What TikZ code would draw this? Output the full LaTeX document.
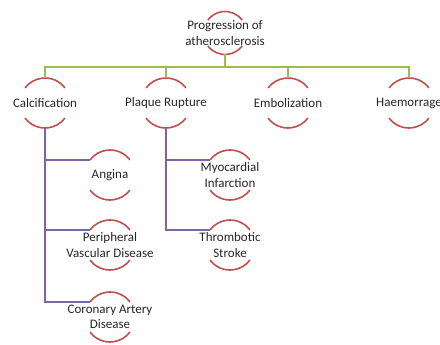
\documentclass[tikz,border=0pt]{standalone}
\usepackage{fontspec}
\setmainfont{Carlito}
\definecolor{arcred}{RGB}{192,80,77}
\definecolor{lgreen}{RGB}{155,187,89}
\definecolor{lpurple}{RGB}{128,100,162}
\begin{document}
\begin{tikzpicture}[x=1pt,y=1pt,
  item/.style={circle, minimum size=50pt, inner sep=0pt, outer sep=0pt},
  smallitem/.style={item, minimum size=43pt},
  itemtext/.style={align=center, font=\fontsize{13}{15.5}\selectfont, text=black!85, inner sep=0pt},
  arcline/.style={draw=arcred, line width=1.6pt},
  gline/.style={draw=lgreen, line width=1.6pt},
  pline/.style={draw=lpurple, line width=1.6pt}]
\useasboundingbox (0,0) rectangle (440,-345);
\clip (0,0) rectangle (440,-345);
% nodes
\node[smallitem, label={[itemtext]center:Progression of\\atherosclerosis}] (top) at (225,-33) {};
\node[item, label={[itemtext]center:Calcification}] (calc) at (45,-103) {};
\node[item, label={[itemtext]center:Plaque Rupture}] (plaque) at (166,-103) {};
\node[item, label={[itemtext]center:Embolization}] (embol) at (288,-103) {};
\node[item, label={[itemtext]center:Haemorrage}] (haem) at (409,-103) {};
\node[item, label={[itemtext]center:Angina}] (angina) at (110,-175) {};
\node[item, label={[itemtext]center:Peripheral\\Vascular Disease}] (pvd) at (110,-245) {};
\node[item, label={[itemtext]center:Coronary Artery\\Disease}] (cad) at (110,-317) {};
\node[item, label={[itemtext]center:Myocardial\\Infarction}] (mi) at (230,-175) {};
\node[item, label={[itemtext]center:Thrombotic\\Stroke}] (ts) at (230,-245) {};
% arcs
\draw[arcline] (top.37) arc[start angle=37, end angle=143, radius=21.5pt];
\draw[arcline] (top.217) arc[start angle=217, end angle=323, radius=21.5pt];
\foreach \n in {calc,plaque,embol,haem,angina,pvd,cad,mi,ts}{
  \draw[arcline] (\n.37) arc[start angle=37, end angle=143, radius=25pt];
  \draw[arcline] (\n.217) arc[start angle=217, end angle=323, radius=25pt];
}
% green connectors
\foreach \n in {calc,plaque,embol,haem}{
  \draw[gline] (top.south) -- ++(0,-12.5) -| (\n.north);
}
% purple connectors
\foreach \n in {angina,pvd,cad}{
  \draw[pline] (calc.south) |- (\n.143);
}
\foreach \n in {mi,ts}{
  \draw[pline] (plaque.south) |- (\n.143);
}
\end{tikzpicture}
\end{document}
